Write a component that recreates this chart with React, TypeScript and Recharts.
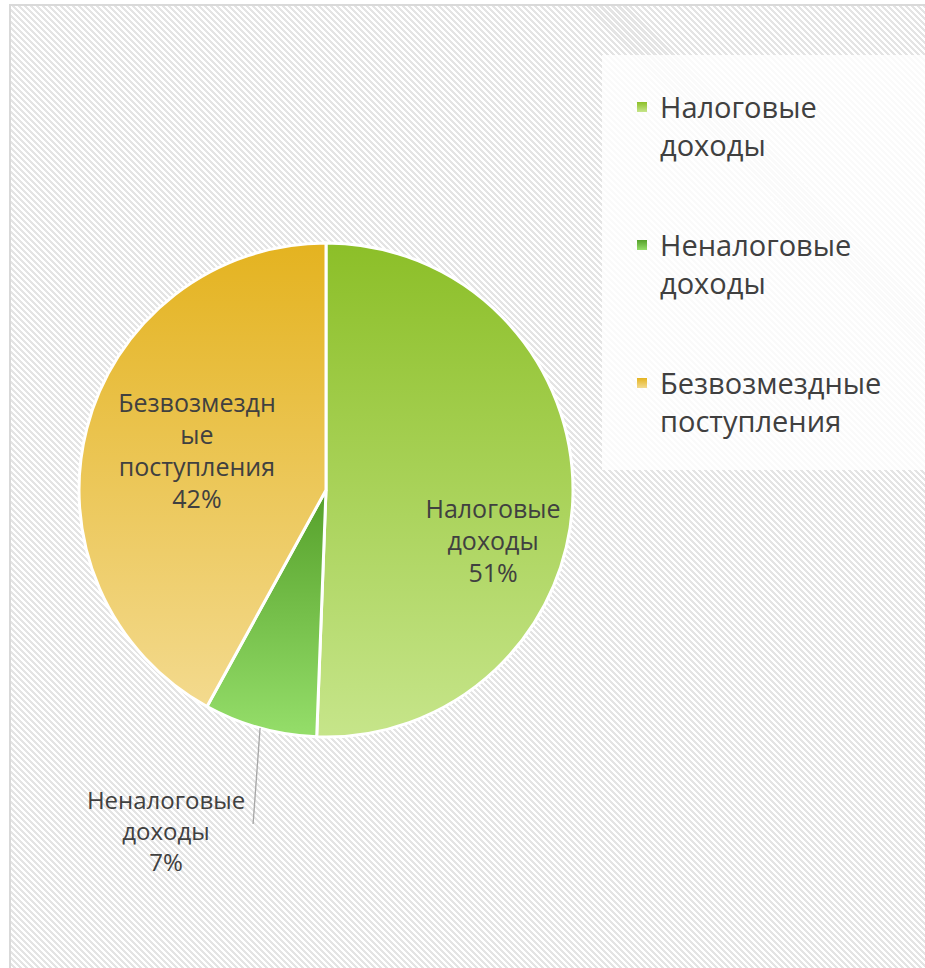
import { PieChart, Pie, Cell, Legend } from 'recharts';

const categories = ['Налоговые доходы', 'Неналоговые доходы', 'Безвозмездные поступления'];
const shares = [50.6, 7.4, 42.0];
// подписи на срезах переносятся иначе, чем в легенде
const sliceLabels = [
  ['Налоговые', 'доходы'],
  ['Неналоговые', 'доходы'],
  ['Безвозмездн', 'ые', 'поступления'],
];
const legendLines = [
  ['Налоговые', 'доходы'],
  ['Неналоговые', 'доходы'],
  ['Безвозмездные', 'поступления'],
];

// градиенты срезов: верх -> низ
const gradients = [
  ['#8cbf28', '#c6e58a'],
  ['#55a02a', '#95de6a'],
  ['#e4b320', '#f3da8e'],
];

const data = categories.map((name, i) => ({ name, value: shares[i] }));

const RADIAN = Math.PI / 180;
const FONT = '"Open Sans", sans-serif';
const TEXT = '#404040';

// положение подписи: доля радиуса и поворот от середины среза (в градусах)
const labelPlace = [
  { r: 0.706, shift: -15.6 },
  null,
  { r: 0.547, shift: -2.8 },
];

const renderLabel = (props: any) => {
  const { cx, cy, midAngle, outerRadius, percent, index } = props;
  const lines = [...sliceLabels[index], `${Math.round(percent * 100)}%`];
  const lh = 32;
  const place = labelPlace[index];
  if (place) {
    const a = (midAngle + place.shift) * RADIAN;
    const x = cx + outerRadius * place.r * Math.cos(a);
    const y = cy - outerRadius * place.r * Math.sin(a);
    const top = y - ((lines.length - 1) * lh) / 2;
    return (
      <text x={x} y={top} textAnchor="middle" dominantBaseline="central" fill={TEXT} fontSize={25} fontFamily={FONT}>
        {lines.map((t, i) => (
          <tspan key={i} x={x} y={top + i * lh}>{t}</tspan>
        ))}
      </text>
    );
  }
  // выноска для маленького среза
  const a = midAngle * RADIAN;
  const sx = cx + outerRadius * Math.cos(a);
  const sy = cy - outerRadius * Math.sin(a);
  const ex = sx - 7;
  const ey = sy + 96;
  const tx = ex - 87;
  const top = ey - 25;
  return (
    <g>
      <line x1={sx} y1={sy} x2={ex} y2={ey} stroke="#a6a6a6" strokeWidth={1.3} />
      <text x={tx} y={top} textAnchor="middle" dominantBaseline="central" fill={TEXT} fontSize={24} fontFamily={FONT}>
        {lines.map((t, i) => (
          <tspan key={i} x={tx} y={top + i * 31}>{t}</tspan>
        ))}
      </text>
    </g>
  );
};

const renderLegend = () => (
  <div style={{ paddingTop: 33, paddingLeft: 35 }}>
    {legendLines.map((lines, i) => (
      <div key={i} style={{ display: 'flex', alignItems: 'flex-start', marginBottom: 62 }}>
        <div
          style={{
            width: 10,
            height: 10,
            marginTop: 14,
            marginRight: 13,
            background: `linear-gradient(${gradients[i][0]}, ${gradients[i][1]})`,
          }}
        />
        <div style={{ fontFamily: FONT, fontSize: 29, lineHeight: '38px', color: TEXT }}>
          {lines.map((t, j) => (
            <div key={j}>{t}</div>
          ))}
        </div>
      </div>
    ))}
  </div>
);

export default function App() {
  return (
    <div style={{ position: 'absolute', left: 0, top: 0, width: 925, height: 968, background: '#fff', overflow: 'hidden' }}>
      <div
        style={{
          position: 'absolute',
          left: 9,
          top: 4,
          width: 930,
          height: 980,
          border: '2px solid #d9d9d9',
          background: 'repeating-linear-gradient(45deg, #ffffff 0px, #ffffff 2.1px, #e4e4e4 2.1px, #e4e4e4 4.24px)',
        }}
      />
      <div style={{ position: 'absolute', left: 0, top: 0 }}>
        <PieChart width={925} height={968} margin={{ top: 0, right: 0, bottom: 0, left: 0 }}>
          <defs>
            {gradients.map(([a, b], i) => (
              <linearGradient key={i} id={`slice-${i}`} x1="0" y1="0" x2="0" y2="1">
                <stop offset="0%" stopColor={a} />
                <stop offset="100%" stopColor={b} />
              </linearGradient>
            ))}
          </defs>
          <Pie
            data={data}
            dataKey="value"
            nameKey="name"
            cx={326}
            cy={490}
            outerRadius={247}
            startAngle={90}
            endAngle={-270}
            stroke="#ffffff"
            strokeWidth={3}
            label={renderLabel}
            labelLine={false}
            isAnimationActive={false}
          >
            {data.map((_, i) => (
              <Cell key={i} fill={`url(#slice-${i})`} />
            ))}
          </Pie>
          <Legend
            content={renderLegend}
            wrapperStyle={{
              position: 'absolute',
              left: 602,
              top: 55,
              width: 323,
              height: 415,
              background: 'rgba(255,255,255,0.8)',
            }}
          />
        </PieChart>
      </div>
    </div>
  );
}
